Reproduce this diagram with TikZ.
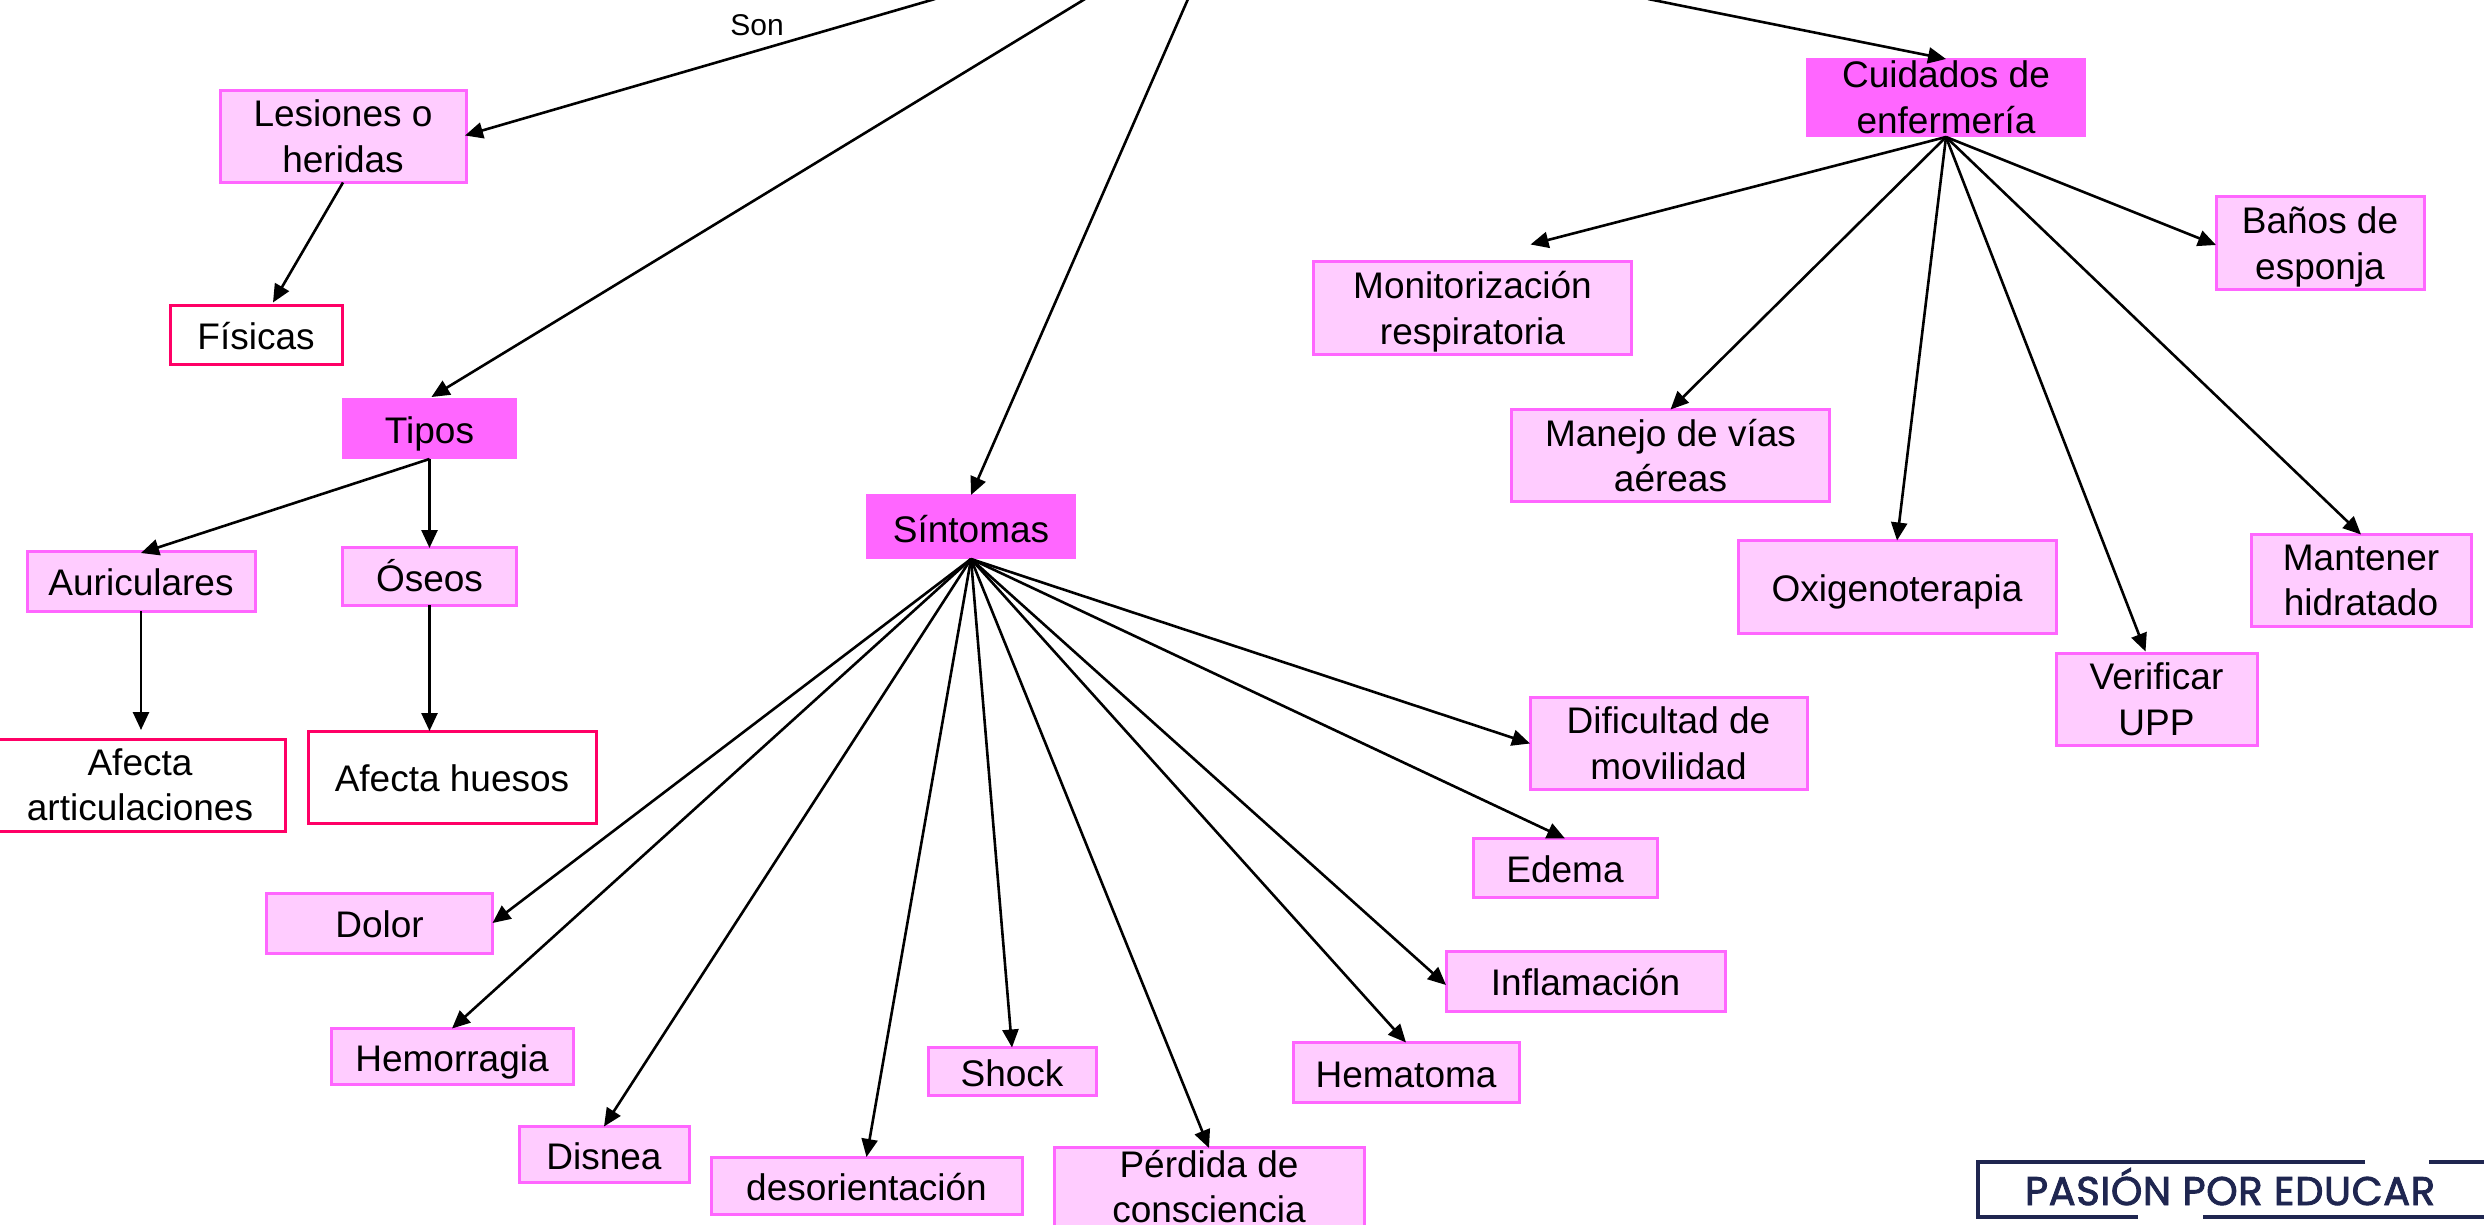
\documentclass[tikz,border=0pt]{standalone}
\usepackage{fontspec}
\setmainfont{Liberation Sans}
\newfontfamily\logofont[FakeBold=2.2,LetterSpace=1.6]{Poppins}
\usetikzlibrary{arrows.meta}
\definecolor{softpink}{HTML}{FFCCFF}
\definecolor{brightpink}{HTML}{FF66FF}
\definecolor{crimsonline}{HTML}{FF0066}
\definecolor{navylogo}{HTML}{1F2650}
\newcommand{\nodepth}[1]{\raisebox{0pt}[\height][0pt]{#1}}
\tikzset{
  x=1pt,y=-1pt,
  every node/.style={inner sep=0pt,outer sep=0pt,align=center,text=black,font=\fontsize{37}{45.5}\selectfont},
  bx/.style 2 args={minimum width=#1pt,minimum height=#2pt},
  oneline/.style={text height=29pt,text depth=0pt},
  softbox/.style={draw=brightpink,line width=3pt,fill=softpink},
  headbox/.style={fill=brightpink},
  whitebox/.style={draw=crimsonline,line width=3pt,fill=white},
  link/.style={draw=black,line width=2.6pt,-{Triangle[length=18pt,width=16pt]}},
  logoline/.style={draw=navylogo,line width=4.5pt}
}
\begin{document}
\begin{tikzpicture}
\useasboundingbox (0,0) rectangle (2484,1225);
\clip (0,0) rectangle (2484,1225);
\fill[white] (0,0) rectangle (2484,1225);

% free upper ends
\coordinate (topSon) at (935,-1);
\coordinate (topTipos) at (1085,-1);
\coordinate (topSint) at (1188,-1);
\coordinate (topCuid) at (1648,-1);

% heads
\node[headbox,bx={280}{79}] (cuid) at (1946,97.5) {Cuidados de\\enfermería};
\node[headbox,oneline,bx={175}{61}] (tipos) at (429.5,428.5) {Tipos};
\node[headbox,text height=31pt,text depth=0pt,bx={210}{65}] (sint) at (971,526.5) {Síntomas};

% left branch
\node[softbox,bx={246}{92}] (les) at (343,136.5) {Lesiones o\\heridas};
\node[whitebox,oneline,bx={172}{59}] (fis) at (256,335) {Físicas};
\node[softbox,oneline,bx={228}{60}] (aur) at (141,581) {Auriculares};
\node[softbox,bx={174}{58}] (ose) at (429.5,576) {Óseos};
\node[whitebox,bx={290}{92}] (afa) at (140,785) {Afecta\\articulaciones};
\node[whitebox,oneline,bx={288}{92}] (afh) at (452,777) {Afecta huesos};

% symptoms
\node[softbox,oneline,bx={226}{60}] (dol) at (379.5,923) {Dolor};
\node[softbox,oneline,bx={242}{56}] (hem) at (452,1056.5) {Hemorragia};
\node[softbox,oneline,bx={170}{56}] (dis) at (604,1154.5) {Disnea};
\node[softbox,oneline,bx={311}{57}] (des) at (866.5,1185.5) {desorientación};
\node[softbox,oneline,bx={168}{48}] (sho) at (1012,1071.5) {Shock};
\node[softbox,bx={310}{79}] (per) at (1209,1186.5) {Pérdida de\\consciencia};
\node[softbox,oneline,bx={226}{60}] (hma) at (1406,1072.5) {Hematoma};
\node[softbox,oneline,bx={279}{60}] (inf) at (1585.5,981) {Inflamación};
\node[softbox,oneline,bx={184}{59}] (ede) at (1565,868) {Edema};
\node[softbox,bx={277}{92}] (dif) at (1668.5,743.5) {Dificultad de\\movilidad};

% care
\node[softbox,bx={318}{93}] (mon) at (1472.5,308) {Monitorización\\\nodepth{respiratoria}};
\node[softbox,bx={318}{92}] (man) at (1670.5,455.5) {Manejo de vías\\aéreas};
\node[softbox,oneline,bx={318}{93}] (oxi) at (1897,587) {Oxigenoterapia};
\node[softbox,bx={201}{92}] (ver) at (2156.5,699.5) {Verificar\\UPP};
\node[softbox,bx={220}{92}] (mnt) at (2361,580.5) {Mantener\\hidratado};
\node[softbox,bx={208}{93}] (ban) at (2320,243) {Baños de\\\nodepth{esponja}};

\node[font=\fontsize{30}{36}\selectfont] (son) at (757,25) {Son};

% connectors
\draw[link] (topSon) -- ([shift={(-1,-1)}]les.east);
\draw[link] (topTipos) -- ([shift={(2,-1)}]tipos.north);
\draw[link] (topSint) -- ([yshift=-1pt]sint.north);
\draw[link] (topCuid) -- ([yshift=-1pt]cuid.north);
\draw[link] (les.south) -- ([shift={(17,-3)}]fis.north);
\draw[link] (tipos.south) -- ([yshift=-2pt]aur.north);
\draw[link] (tipos.south) -- ([yshift=-1pt]ose.north);
\draw[link] (aur.south) -- ([shift={(1,-9)}]afa.north);
\draw[link] (ose.south) -- ([shift={(-22.5,0)}]afh.north);

\draw[link] (sint.south) -- (dol.east);
\draw[link] (sint.south) -- (hem.north);
\draw[link] (sint.south) -- (dis.north);
\draw[link] (sint.south) -- (des.north);
\draw[link] (sint.south) -- (sho.north);
\draw[link] (sint.south) -- ([yshift=-1pt]per.north);
\draw[link] (sint.south) -- (hma.north);
\draw[link] (sint.south) -- ([yshift=-4pt]inf.west);
\draw[link] (sint.south) -- (ede.north);
\draw[link] (sint.south) -- (dif.west);

\draw[link] (cuid.south) -- ([shift={(58,-17)}]mon.north);
\draw[link] (cuid.south) -- (man.north);
\draw[link] (cuid.south) -- (oxi.north);
\draw[link] (cuid.south) -- ([shift={(-11,-2)}]ver.north);
\draw[link] (cuid.south) -- (mnt.north);
\draw[link] (cuid.south) -- ([yshift=-2pt]ban.west);

% logo
\node[font=\logofont\fontsize{40}{46}\selectfont,text=navylogo,text height=28pt,text depth=0pt] (logo) at (2230,1191) {PASIÓN POR EDUCAR};
\draw[logoline] (2365,1162) -- (1978,1162) -- (1978,1217) -- (2138,1217);
\draw[logoline] (2203,1217) -- (2490,1217);
\draw[logoline] (2429,1162) -- (2490,1162);
\end{tikzpicture}
\end{document}
